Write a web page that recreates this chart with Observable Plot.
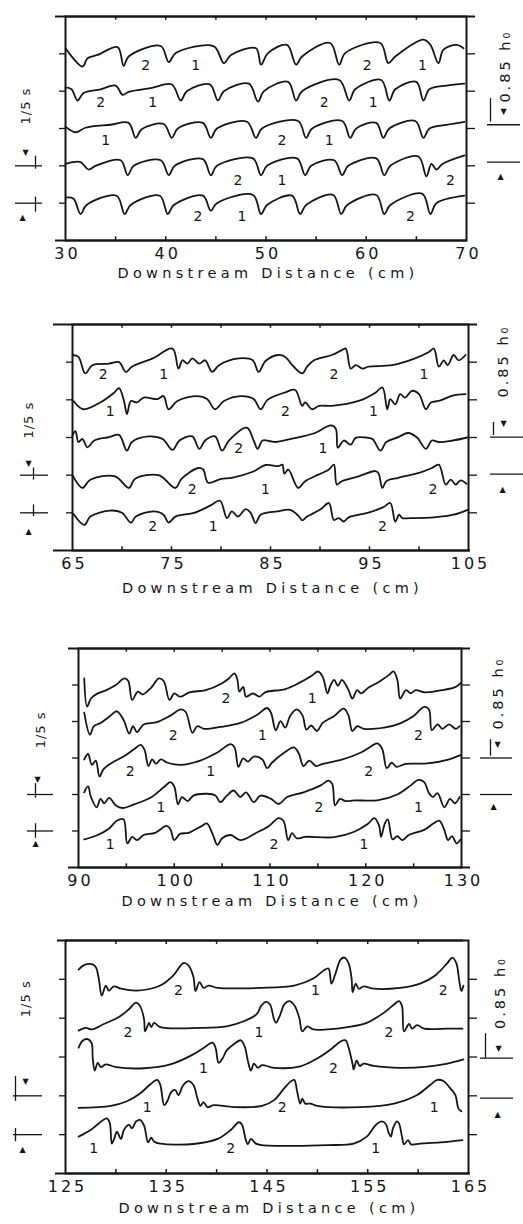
<!DOCTYPE html>
<html><head><meta charset="utf-8">
<script src="https://cdn.jsdelivr.net/npm/d3@7"></script>
<script src="https://cdn.jsdelivr.net/npm/@observablehq/plot@0.6"></script>
<style>
body{margin:0;background:#fff;}
#wrap{position:relative;width:523px;height:1224px;overflow:hidden;background:#fff;}
.panel{position:absolute;left:0;}
</style></head><body><div id="wrap"></div>
<script>
// ---------- Panel 1 (30–70 cm) : [x cm, offset from trace baseline] ----------
const p1_t1 = [[30.0,0.15],[31.7,-0.34],[32.2,-0.12],[33.2,-0.03],[35.2,0.18],[35.8,-0.32],[36.3,-0.07],[39.5,0.21],[40.3,-0.22],[41.0,0.02],[44.8,0.20],[45.8,-0.25],[46.5,-0.03],[49.0,0.15],[49.5,-0.29],[50.2,0.02],[52.1,0.24],[53.0,-0.29],[53.6,-0.07],[56.4,0.29],[57.3,-0.29],[57.9,0.02],[61.4,0.29],[62.2,-0.25],[62.9,-0.07],[65.7,0.38],[66.4,0.24],[67.2,-0.25],[67.7,0.11],[69.0,0.24],[69.7,0.15]];
const p1_t2 = [[30.0,0.10],[30.6,0.05],[31.2,-0.25],[31.8,-0.05],[33.5,0.05],[35.0,0.15],[35.7,-0.10],[36.3,-0.02],[38.5,0.08],[40.6,0.18],[41.5,-0.25],[42.1,0.0],[44.4,0.18],[45.2,-0.25],[45.8,0.0],[48.3,0.20],[49.2,-0.28],[49.8,0.0],[52.2,0.25],[53.0,-0.25],[53.6,0.0],[57.3,0.30],[58.3,-0.25],[58.9,0.05],[61.5,0.30],[62.3,-0.25],[62.9,0.05],[65.0,0.25],[65.7,-0.25],[66.3,0.05],[68.0,0.15],[69.8,0.20]];
const p1_t3 = [[30.0,0.05],[31.0,-0.10],[32.0,0.02],[34.5,0.10],[36.3,0.15],[37.0,-0.25],[37.6,-0.02],[39.8,0.12],[40.6,-0.25],[41.2,0.0],[43.7,0.15],[44.5,-0.25],[45.1,0.0],[48.1,0.18],[49.0,-0.25],[49.6,0.0],[53.2,0.20],[54.0,-0.25],[54.6,0.0],[57.6,0.20],[58.4,-0.25],[59.0,0.0],[61.0,0.15],[61.7,-0.25],[62.3,0.0],[64.9,0.20],[65.7,-0.25],[66.3,0.0],[68.0,0.10],[69.8,0.18]];
const p1_t4 = [[30.0,0.05],[31.5,0.10],[32.3,-0.10],[33.0,0.0],[35.5,0.15],[36.2,-0.25],[36.8,0.0],[39.5,0.15],[40.3,-0.25],[40.9,0.0],[43.7,0.18],[44.5,-0.25],[45.1,0.0],[48.7,0.20],[49.5,-0.25],[50.1,0.0],[53.1,0.20],[53.9,-0.25],[54.5,0.0],[56.8,0.15],[57.6,-0.25],[58.2,0.0],[61.0,0.20],[61.8,-0.25],[62.4,0.0],[65.2,0.25],[66.0,-0.28],[66.5,0.05],[67.0,-0.10],[67.6,0.05],[69.8,0.28]];
const p1_t5 = [[30.0,0.15],[30.8,0.12],[31.5,-0.29],[32.1,-0.05],[35.1,0.20],[35.9,-0.29],[36.5,-0.05],[39.4,0.20],[40.2,-0.29],[40.8,-0.05],[43.7,0.20],[44.5,-0.20],[45.1,0.0],[48.7,0.22],[49.5,-0.29],[50.1,-0.05],[52.6,0.20],[53.4,-0.29],[54.0,-0.05],[56.7,0.22],[57.5,-0.29],[58.1,-0.05],[61.0,0.22],[61.8,-0.29],[62.4,-0.05],[65.6,0.25],[66.4,-0.29],[67.0,0.0],[69.8,0.20]];
const p1_labels = [
  [[38.0,-0.30,"2"],[43.0,-0.30,"1"],[60.1,-0.30,"2"],[65.6,-0.30,"1"]],
  [[33.5,-0.31,"2"],[38.7,-0.31,"1"],[55.8,-0.31,"2"],[60.7,-0.31,"1"]],
  [[34.0,-0.31,"1"],[51.6,-0.31,"2"],[56.3,-0.31,"1"]],
  [[47.2,-0.38,"2"],[51.6,-0.38,"1"],[68.4,-0.38,"2"]],
  [[43.2,-0.36,"2"],[47.6,-0.36,"1"],[64.4,-0.36,"2"]]
];
const p1_ticks = [30,40,50,60,70];

// ---------- Panel 2 (65–105 cm) ----------
const p2_t1 = [[65.0,0.19],[65.6,0.14],[66.3,-0.30],[67.0,-0.08],[68.7,-0.04],[69.7,0.0],[70.4,-0.26],[71.0,-0.12],[73.1,0.10],[75.1,0.36],[75.7,-0.17],[76.1,0.05],[76.6,-0.04],[77.1,0.10],[77.8,-0.04],[78.4,0.05],[79.1,-0.26],[79.8,-0.08],[81.8,0.10],[83.2,0.05],[83.8,-0.26],[84.5,0.03],[85.8,0.19],[86.5,0.14],[87.2,-0.08],[88.2,-0.30],[88.7,-0.12],[89.4,0.05],[91.2,0.19],[92.2,0.32],[92.6,0.36],[93.1,-0.17],[93.6,-0.08],[94.3,-0.17],[94.9,-0.12],[97.3,-0.08],[99.6,0.10],[101.0,0.27],[101.5,0.36],[102.0,-0.12],[102.5,0.05],[102.9,-0.08],[103.5,0.19],[104.0,0.05],[104.7,0.19]];
const p2_t2 = [[65.1,-0.03],[66.1,-0.25],[67.8,-0.07],[69.2,0.19],[69.7,0.31],[70.2,-0.03],[70.5,-0.38],[70.9,-0.03],[71.5,-0.07],[72.2,0.06],[73.6,0.02],[74.2,0.10],[74.7,-0.25],[75.6,-0.03],[77.6,0.10],[78.6,0.02],[79.4,-0.25],[80.3,-0.03],[82.0,0.10],[83.3,0.02],[84.0,-0.25],[84.7,0.0],[86.5,0.20],[87.5,0.26],[88.2,-0.16],[88.5,-0.07],[89.2,-0.25],[89.9,-0.16],[91.2,-0.16],[93.9,-0.03],[95.6,0.19],[96.3,0.33],[96.8,-0.25],[97.1,0.02],[97.6,-0.12],[98.1,0.15],[98.6,0.06],[99.3,0.24],[100.0,0.15],[100.7,-0.25],[101.2,-0.07],[102.0,-0.03],[103.4,0.11],[104.7,0.15]];
const p2_t3 = [[65.0,0.05],[65.3,0.17],[65.6,-0.12],[66.0,-0.04],[66.5,-0.26],[67.2,-0.08],[68.7,0.01],[69.7,0.07],[70.5,-0.35],[71.0,-0.12],[72.7,0.03],[74.1,-0.04],[75.1,-0.33],[75.8,-0.08],[77.1,0.03],[77.8,-0.30],[78.4,-0.08],[79.4,0.03],[80.1,-0.35],[80.8,-0.08],[82.6,0.26],[83.3,-0.08],[83.7,-0.30],[84.2,-0.08],[85.0,-0.10],[85.5,-0.12],[87.9,0.01],[89.5,0.12],[91.1,0.32],[91.6,0.23],[91.8,-0.27],[92.4,-0.08],[93.1,-0.19],[93.6,-0.01],[94.6,0.0],[95.3,-0.04],[96.1,-0.35],[96.7,-0.12],[97.9,0.01],[98.9,0.12],[99.8,0.0],[100.7,-0.30],[101.3,-0.08],[102.0,-0.12],[103.4,-0.08],[104.9,0.0]];
const p2_t4 = [[65.0,0.0],[66.0,-0.34],[66.8,-0.12],[69.3,-0.03],[70.7,-0.34],[71.3,-0.10],[73.7,0.0],[75.4,-0.34],[76.0,-0.10],[77.7,0.19],[78.2,0.15],[78.7,-0.20],[80.0,-0.10],[81.1,-0.07],[83.2,0.09],[84.5,0.27],[85.8,0.24],[86.2,0.28],[86.4,0.04],[86.8,0.15],[87.8,-0.34],[88.5,-0.16],[89.9,0.02],[90.9,0.15],[91.4,0.28],[91.7,-0.25],[92.2,-0.16],[93.9,-0.03],[95.6,0.11],[95.9,0.06],[96.3,-0.34],[96.7,-0.16],[97.9,-0.07],[100.0,0.06],[101.3,0.19],[102.0,0.28],[102.7,-0.25],[103.2,-0.12],[103.7,-0.25],[104.2,-0.14],[104.8,-0.23]];
const p2_t5 = [[65.1,-0.03],[66.2,-0.32],[66.8,-0.10],[68.8,0.06],[70.0,0.0],[70.9,-0.26],[71.4,-0.10],[73.2,0.04],[74.2,-0.05],[74.7,-0.26],[75.4,-0.10],[77.3,0.0],[78.9,0.19],[79.9,0.32],[80.6,-0.14],[81.1,0.04],[81.7,-0.10],[82.5,0.10],[83.0,0.0],[83.5,-0.27],[84.0,-0.05],[85.7,0.04],[87.0,0.08],[87.9,-0.10],[88.2,-0.20],[88.7,-0.10],[90.1,0.10],[90.9,0.26],[91.4,-0.19],[91.9,-0.14],[92.4,-0.23],[92.9,-0.12],[94.8,0.0],[96.4,0.15],[97.1,0.26],[97.6,-0.23],[98.0,-0.05],[98.3,-0.14],[99.1,-0.14],[101.5,-0.12],[103.5,-0.05],[104.9,0.08]];
const p2_labels = [
  [[68.1,-0.34,"2"],[74.2,-0.34,"1"],[91.4,-0.34,"2"],[100.5,-0.34,"1"]],
  [[68.8,-0.30,"1"],[86.5,-0.30,"2"],[95.4,-0.30,"1"]],
  [[81.8,-0.30,"2"],[90.3,-0.30,"1"]],
  [[77.1,-0.37,"2"],[84.5,-0.37,"1"],[101.4,-0.37,"2"]],
  [[73.1,-0.36,"2"],[79.2,-0.36,"1"],[96.3,-0.36,"2"]]
];
const p2_ticks = [65,75,85,95,105];

// ---------- Panel 3 (90–130 cm) ----------
const p3_t1 = [[90.6,0.18],[90.9,-0.59],[91.3,-0.37],[92.0,-0.23],[92.9,-0.14],[93.9,0.0],[94.8,0.18],[95.2,0.11],[95.6,-0.41],[96.2,-0.18],[96.7,-0.26],[97.6,-0.07],[98.4,0.18],[98.9,0.11],[99.5,-0.41],[100.0,-0.23],[100.6,-0.32],[101.6,-0.20],[103.3,-0.14],[105.0,0.05],[105.7,0.18],[106.3,0.32],[106.6,0.14],[106.8,-0.18],[107.2,-0.05],[107.5,-0.32],[108.2,-0.23],[108.9,-0.32],[109.5,-0.20],[111.6,-0.11],[113.0,0.05],[114.4,0.26],[115.0,0.37],[115.5,0.23],[116.0,-0.23],[116.3,-0.02],[116.7,0.14],[117.1,-0.02],[117.5,0.14],[118.2,-0.14],[118.6,-0.37],[119.1,-0.14],[119.5,-0.23],[120.3,-0.07],[121.4,0.09],[122.4,0.27],[122.9,0.37],[123.3,0.14],[123.6,-0.37],[124.2,-0.14],[124.7,-0.23],[125.2,-0.14],[126.2,-0.20],[128.0,-0.14],[129.4,-0.05],[129.9,0.05]];
const p3_t2 = [[90.6,0.24],[91.2,-0.36],[91.6,-0.13],[92.3,-0.04],[93.3,0.15],[94.0,0.28],[94.7,0.05],[95.3,-0.33],[95.7,-0.13],[96.1,-0.29],[96.8,-0.08],[98.2,-0.02],[99.6,0.16],[100.7,0.33],[101.2,0.26],[101.9,-0.31],[102.4,-0.13],[103.1,-0.20],[104.8,-0.15],[106.9,-0.04],[108.7,0.19],[109.7,0.37],[110.1,0.24],[110.6,-0.24],[111.1,0.01],[111.6,-0.17],[112.1,0.15],[112.8,0.33],[113.4,0.16],[113.8,-0.22],[114.3,-0.11],[114.9,-0.26],[115.5,-0.04],[116.7,0.15],[117.7,0.35],[118.2,0.16],[118.6,-0.26],[119.1,-0.13],[119.8,-0.20],[121.9,-0.17],[123.6,-0.05],[125.0,0.15],[126.1,0.40],[126.6,0.33],[126.9,-0.24],[127.5,-0.08],[128.0,-0.20],[128.7,-0.08],[129.4,-0.20],[129.8,-0.13]];
const p3_t3 = [[90.6,-0.04],[91.0,0.11],[91.4,-0.19],[91.8,-0.07],[92.2,-0.51],[92.6,-0.31],[93.5,-0.13],[94.7,0.04],[95.8,0.24],[96.5,0.36],[96.9,0.22],[97.3,-0.22],[97.7,-0.04],[98.1,-0.16],[98.6,-0.04],[99.3,-0.13],[100.7,-0.19],[102.7,-0.07],[104.5,0.15],[105.9,0.38],[106.3,0.29],[106.7,-0.24],[107.2,-0.01],[107.7,-0.10],[108.3,0.04],[109.2,-0.04],[109.7,-0.28],[110.2,-0.13],[111.4,0.13],[112.5,0.29],[113.0,0.13],[113.5,-0.22],[114.1,-0.07],[114.8,-0.22],[115.5,-0.16],[117.4,-0.05],[119.5,0.15],[120.5,0.31],[121.2,0.40],[121.7,0.26],[122.2,-0.28],[122.7,-0.13],[123.2,-0.24],[124.2,-0.16],[126.4,-0.15],[128.5,-0.05],[129.9,0.08]];
const p3_t4 = [[90.6,0.06],[91.0,0.22],[91.3,-0.07],[91.9,-0.35],[92.3,-0.12],[92.7,-0.24],[93.2,-0.09],[93.9,-0.30],[94.6,-0.37],[95.8,-0.27],[97.5,-0.09],[98.9,0.20],[99.6,0.34],[100.0,0.22],[100.4,-0.27],[100.8,-0.07],[101.4,-0.18],[102.0,-0.03],[103.4,0.02],[104.3,-0.03],[104.8,-0.21],[105.5,-0.03],[106.2,0.11],[106.9,-0.07],[107.5,0.06],[108.3,-0.21],[109.0,-0.03],[110.1,-0.12],[110.9,-0.26],[111.8,-0.07],[113.5,0.06],[115.3,0.25],[116.1,0.38],[116.5,0.29],[116.8,-0.30],[117.3,-0.12],[117.9,-0.18],[118.8,-0.16],[121.2,-0.16],[123.3,0.0],[124.7,0.25],[125.5,0.40],[126.1,0.34],[126.6,0.04],[127.0,-0.07],[127.5,0.04],[128.2,-0.35],[128.8,-0.12],[129.3,-0.24],[129.8,-0.07]];
const p3_t5 = [[90.6,-0.23],[92.0,-0.11],[93.2,0.07],[94.0,0.28],[94.7,0.32],[95.1,-0.34],[95.6,-0.16],[96.1,-0.25],[96.8,-0.11],[98.0,-0.05],[99.2,0.14],[99.6,0.05],[100.0,-0.25],[100.6,-0.08],[101.5,-0.05],[102.9,0.14],[103.4,0.21],[104.0,-0.08],[104.5,-0.38],[105.0,-0.20],[105.9,-0.11],[106.9,-0.25],[108.5,-0.06],[109.9,0.14],[110.9,0.35],[111.4,0.28],[111.9,-0.25],[112.3,-0.06],[112.8,-0.20],[113.7,-0.16],[116.7,-0.17],[118.8,-0.02],[120.2,0.19],[120.9,0.35],[121.4,0.14],[121.6,-0.16],[122.0,0.21],[122.3,0.32],[122.8,-0.23],[123.3,-0.14],[123.8,-0.25],[124.5,-0.11],[126.1,0.03],[127.1,0.21],[127.7,0.28],[128.2,0.03],[128.6,-0.25],[129.0,-0.14],[129.5,-0.34],[129.9,-0.23]];
const p3_labels = [
  [[105.4,-0.36,"2"],[114.4,-0.36,"1"]],
  [[99.9,-0.38,"2"],[109.2,-0.38,"1"],[125.5,-0.38,"2"]],
  [[95.4,-0.36,"2"],[103.8,-0.36,"1"],[120.3,-0.36,"2"]],
  [[98.6,-0.36,"1"],[115.1,-0.36,"2"],[125.5,-0.36,"1"]],
  [[93.3,-0.36,"1"],[110.4,-0.36,"2"],[119.8,-0.36,"1"]]
];
const p3_ticks = [90,100,110,120,130];

// ---------- Panel 4 (125–165 cm) ----------
const p4_t1 = [[126.3,0.25],[126.8,0.36],[127.6,0.39],[128.0,0.32],[128.3,0.02],[128.6,-0.42],[129.0,-0.16],[129.3,-0.29],[129.8,-0.18],[130.5,-0.24],[132.1,-0.29],[134.4,-0.16],[135.7,0.10],[136.7,0.42],[137.2,0.36],[137.7,0.06],[137.9,-0.30],[138.3,-0.07],[138.7,-0.22],[139.2,-0.16],[140.1,-0.22],[144.4,-0.22],[147.7,-0.16],[149.6,0.02],[150.6,0.22],[151.1,0.28],[151.4,-0.11],[151.8,0.15],[152.3,0.51],[152.7,0.56],[153.1,0.41],[153.4,0.02],[153.5,-0.33],[153.8,-0.11],[154.1,-0.24],[154.6,-0.18],[155.6,-0.24],[158.2,-0.22],[160.2,-0.11],[161.7,0.10],[162.9,0.42],[163.4,0.56],[163.8,0.41],[164.1,-0.07],[164.3,-0.30],[164.5,-0.16]];
const p4_t2 = [[126.3,-0.32],[127.0,-0.25],[127.6,-0.29],[128.8,-0.15],[130.3,0.03],[131.3,0.23],[132.0,0.40],[132.4,0.31],[132.8,-0.03],[132.9,-0.34],[133.3,-0.12],[133.5,-0.23],[133.8,-0.12],[134.4,-0.23],[138.4,-0.25],[141.0,-0.21],[142.7,-0.08],[144.0,0.11],[144.4,0.31],[144.9,0.42],[145.3,0.35],[145.7,-0.03],[145.9,-0.12],[146.3,0.08],[146.7,0.35],[147.2,0.44],[147.7,0.34],[148.2,0.01],[148.5,-0.34],[149.0,-0.21],[149.6,-0.29],[151.0,-0.29],[153.0,-0.23],[154.9,-0.12],[156.6,0.14],[157.6,0.35],[158.1,0.44],[158.4,0.31],[158.6,-0.34],[159.1,-0.15],[159.4,-0.27],[159.9,-0.18],[160.6,-0.27],[162.9,-0.27],[164.4,-0.27]];
const p4_t3 = [[126.3,0.24],[126.7,0.42],[127.2,0.46],[127.6,0.35],[127.7,-0.02],[127.9,-0.35],[128.2,-0.15],[128.5,-0.26],[129.0,-0.19],[130.0,-0.26],[132.8,-0.29],[135.4,-0.19],[137.4,0.03],[138.7,0.23],[139.6,0.37],[139.9,0.23],[140.2,-0.15],[140.6,-0.03],[141.0,0.17],[141.7,0.33],[142.4,0.43],[142.8,0.26],[143.1,-0.10],[143.4,-0.35],[143.7,-0.17],[144.1,-0.28],[144.5,-0.21],[145.7,-0.28],[148.3,-0.24],[150.1,-0.02],[151.5,0.23],[152.3,0.40],[152.8,0.43],[153.1,0.24],[153.5,-0.19],[153.6,-0.32],[153.9,-0.09],[154.2,-0.23],[154.6,-0.17],[155.6,-0.23],[158.2,-0.28],[160.9,-0.25],[162.9,-0.17],[164.5,-0.06]];
const p4_t4 = [[126.3,-0.31],[129.5,-0.26],[131.1,-0.14],[132.4,0.06],[133.4,0.29],[134.1,0.41],[134.4,0.29],[134.8,-0.24],[135.1,-0.14],[135.5,0.10],[135.9,0.15],[136.2,0.02],[136.7,0.28],[137.2,0.38],[137.7,0.28],[138.1,-0.07],[138.4,-0.26],[138.7,-0.16],[139.1,-0.29],[139.7,-0.24],[141.7,-0.29],[144.5,-0.26],[145.7,-0.11],[146.7,0.19],[147.3,0.36],[147.7,0.41],[148.0,0.10],[148.3,-0.20],[148.5,-0.07],[148.8,-0.20],[149.3,-0.20],[150.0,-0.26],[154.3,-0.29],[157.6,-0.20],[159.9,0.02],[161.2,0.28],[161.9,0.41],[162.5,0.38],[163.2,0.19],[163.7,0.02],[164.0,-0.33],[164.3,-0.40]];
const p4_t5 = [[126.3,-0.05],[127.5,0.12],[128.3,0.29],[129.1,0.42],[129.4,0.29],[129.6,-0.23],[129.9,-0.05],[130.1,0.08],[130.5,-0.11],[130.8,0.12],[131.3,0.25],[131.6,0.16],[132.0,0.34],[132.4,0.38],[132.8,0.23],[133.2,-0.20],[133.5,-0.08],[133.8,-0.18],[134.4,-0.23],[137.7,-0.24],[140.1,-0.11],[141.4,0.12],[142.2,0.32],[142.5,0.27],[142.9,-0.14],[143.1,-0.25],[143.4,-0.11],[143.9,-0.23],[144.5,-0.27],[147.7,-0.29],[151.0,-0.27],[153.6,-0.23],[154.9,-0.05],[155.8,0.25],[156.4,0.34],[156.8,0.27],[157.1,0.03],[157.3,-0.05],[157.5,0.16],[157.9,0.34],[158.1,0.29],[158.4,-0.05],[158.6,-0.25],[159.0,-0.14],[159.3,-0.25],[160.2,-0.23],[162.2,-0.20],[164.4,-0.14]];
const p4_labels = [
  [[136.2,-0.29,"2"],[149.8,-0.29,"1"],[162.5,-0.29,"2"]],
  [[131.2,-0.36,"2"],[144.2,-0.36,"1"],[157.1,-0.36,"2"]],
  [[138.7,-0.29,"1"],[151.6,-0.29,"2"]],
  [[133.1,-0.31,"1"],[146.5,-0.31,"2"],[161.6,-0.31,"1"]],
  [[127.8,-0.36,"1"],[141.4,-0.36,"2"],[155.8,-0.36,"1"]]
];
const p4_ticks = [125,135,145,155,165];

const AXIS_TITLE = "Downstream Distance (cm)";
const LEFT_NOTE = "1/5 s";
const RIGHT_NOTE = "0.85 h\u2080";

// ---------- layout (pixels) ----------
const W = 523;
const FONT = "'DejaVu Sans', sans-serif";
const INK = "#161616";
const panels = [
  {domain:[30,70], ticks:p1_ticks, traces:[p1_t1,p1_t2,p1_t3,p1_t4,p1_t5], labels:p1_labels,
   frame:{left:65,right:466,top:16,bottom:240}, titleDy:37, ext:[55,475,55,467],
   L:{text:[25,2.6], down:[25,1.37], up:[22,-0.38], h:[15,42], bar:[35,1.26,0.91,0.16,-0.24]},
   R:{text:[505,3.67], down:[503,2.47], up:[500,0.72], h:[487,520], hy:[2.1,1.1], bar:[490,2.8,2.17]}},
  {domain:[65,105], ticks:p2_ticks, traces:[p2_t1,p2_t2,p2_t3,p2_t4,p2_t5], labels:p2_labels,
   frame:{left:72,right:468,top:324,bottom:550}, titleDy:42, ext:[53,477,53,470],
   L:{text:[28,2.46], down:[28,1.32], up:[28,-0.5], h:[20,48], bar:[33,1.19,0.87,0.21,-0.1]},
   R:{text:[503,4.03], down:[503,2.38], up:[502,0.61], h:[490,523], hy:[2.01,1.03], bar:[493,2.4,2.05]}},
  {domain:[90,130], ticks:p3_ticks, traces:[p3_t1,p3_t2,p3_t3,p3_t4,p3_t5], labels:p3_labels,
   frame:{left:78,right:461,top:648,bottom:867}, titleDy:38, ext:[68,470,68,470],
   L:{text:[40,2.77], down:[37,1.4], up:[35,-0.33], h:[27,53], bar:[35,1.3,0.9,0.2,-0.2]},
   R:{text:[498,3.78], down:[497,2.36], up:[493,0.66], h:[480,512], hy:[2.0,1.0], bar:[490,2.5,2.05]}},
  {domain:[125,165], ticks:p4_ticks, traces:[p4_t1,p4_t2,p4_t3,p4_t4,p4_t5], labels:p4_labels,
   frame:{left:65,right:468,top:940,bottom:1173}, titleDy:39, ext:[57,463,55,470],
   L:{text:[25,3.5], down:[25,1.38], up:[22,-0.39], h:[13,42], bar:[15,1.5,0.86,0.16,-0.18]},
   R:{text:[500,3.66], down:[498,2.23], up:[497,0.52], h:[480,513], hy:[1.97,0.94], bar:[485,2.6,1.97]}}
];

const TOP_M = 16, BOT_M = 48;
const wrap = document.getElementById("wrap");

for (const cfg of panels) {
  const {domain, frame} = cfg;
  const px = p => domain[0] + (p - frame.left) * (domain[1] - domain[0]) / (frame.right - frame.left);
  const rows = cfg.traces.flatMap((tr, i) => tr.map(([x, dy]) => ({x, y: (4 - i) + dy, trace: i})));
  const labRows = cfg.labels.flatMap((arr, i) => arr.map(([x, dy, t]) => ({x, y: (4 - i) + dy, t})));
  const minor = d3.range(domain[0] + 5, domain[1] - 0.1, 5);
  const H = TOP_M + (frame.bottom - frame.top) + BOT_M;
  const L = cfg.L, R = cfg.R;

  const leftNote = [{x: px(L.text[0]), y: L.text[1], t: LEFT_NOTE}];
  const rightNote = [{x: px(R.text[0]), y: R.text[1], t: RIGHT_NOTE}];
  const arrows = [
    {x: px(L.down[0]), y: L.down[1], t: "\u25BC"},
    {x: px(L.up[0]), y: L.up[1], t: "\u25B2"},
    {x: px(R.down[0]), y: R.down[1], t: "\u25BC"},
    {x: px(R.up[0]), y: R.up[1], t: "\u25B2"}
  ];
  const hrules = [
    {y: 1, x1: px(L.h[0]), x2: px(L.h[1])},
    {y: 0, x1: px(L.h[0]), x2: px(L.h[1])},
    {y: R.hy[0], x1: px(R.h[0]), x2: px(R.h[1])},
    {y: R.hy[1], x1: px(R.h[0]), x2: px(R.h[1])}
  ];
  const frameRules = [
    {y: 5, x1: px(cfg.ext[0]), x2: px(cfg.ext[1])},
    {y: -1, x1: px(cfg.ext[2]), x2: px(cfg.ext[3])}
  ];
  const vrules = [
    {x: px(L.bar[0]), y1: L.bar[1], y2: L.bar[2]},
    {x: px(L.bar[0]), y1: L.bar[3], y2: L.bar[4]},
    {x: px(R.bar[0]), y1: R.bar[1], y2: R.bar[2]}
  ];

  const chart = Plot.plot({
    width: W, height: H,
    marginTop: TOP_M, marginBottom: BOT_M, marginLeft: frame.left, marginRight: W - frame.right,
    x: {domain, axis: null},
    y: {domain: [-1, 5], axis: null},
    style: {fontFamily: FONT, background: "transparent", overflow: "visible", color: INK, letterSpacing: "3px"},
    marks: [
      Plot.frame({stroke: INK, strokeWidth: 2}),
      Plot.ruleY(frameRules, {y: "y", x1: "x1", x2: "x2", stroke: INK, strokeWidth: 2}),
      Plot.ruleX(minor, {x: d => d, y1: -1, y2: -0.9, stroke: INK, strokeWidth: 1.5}),
      Plot.ruleX(minor, {x: d => d, y1: 5, y2: 4.9, stroke: INK, strokeWidth: 1.5}),
      Plot.axisY({anchor: "left", ticks: [0,1,2,3,4], tickSize: 6, tickFormat: () => "", label: null, stroke: INK, strokeWidth: 1.3}),
      Plot.axisY({anchor: "right", ticks: [0,1,2,3,4], tickSize: 8, tickFormat: () => "", label: null, stroke: INK, strokeWidth: 1.3}),
      Plot.axisX({anchor: "bottom", ticks: cfg.ticks, tickSize: 0, tickPadding: 7, fontSize: 16, label: null, tickFormat: d => String(d), dx: 2}),
      Plot.text([AXIS_TITLE], {text: d => d, frameAnchor: "bottom", dy: cfg.titleDy, dx: 2, fontSize: 14.5}),
      Plot.line(rows, {x: "x", y: "y", z: "trace", curve: "catmull-rom", stroke: INK, strokeWidth: 1.8, strokeLinejoin: "round"}),
      Plot.text(labRows, {x: "x", y: "y", text: "t", fontSize: 14, fill: INK}),
      Plot.ruleY(hrules, {y: "y", x1: "x1", x2: "x2", stroke: INK, strokeWidth: 1.3}),
      Plot.ruleX(vrules, {x: "x", y1: "y1", y2: "y2", stroke: INK, strokeWidth: 1.3}),
      Plot.text(leftNote, {x: "x", y: "y", text: "t", fontSize: 13, rotate: -90, fill: INK}),
      Plot.text(rightNote, {x: "x", y: "y", text: "t", fontSize: 14.5, rotate: -90, fill: INK}),
      Plot.text(arrows, {x: "x", y: "y", text: "t", fontSize: 8, fill: INK})
    ]
  });
  // per-text letter spacing (typewriter-like wide spacing of the original)
  d3.select(chart).selectAll("text").each(function() {
    const s = this.textContent;
    let ls = null;
    if (s === AXIS_TITLE) ls = "4.3px";
    else if (s === LEFT_NOTE) ls = "1px";
    else if (s === "1" || s === "2" || s === "\u25BC" || s === "\u25B2") ls = "0px";
    if (ls !== null) this.style.letterSpacing = ls;
  });
  const holder = document.createElement("div");
  holder.className = "panel";
  holder.style.top = (frame.top - TOP_M) + "px";
  holder.appendChild(chart);
  wrap.appendChild(holder);
}
</script></body></html>
